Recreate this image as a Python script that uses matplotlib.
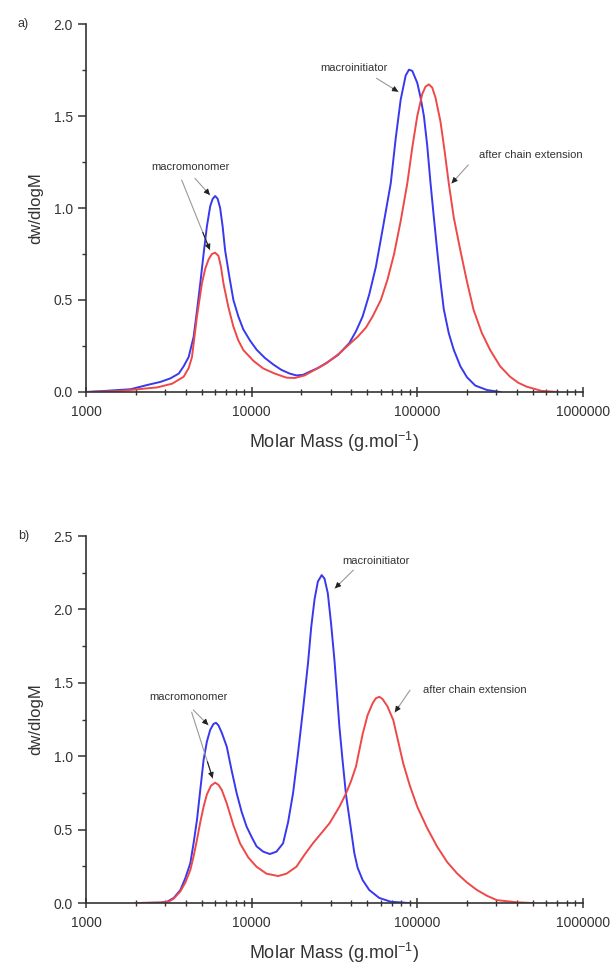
import numpy as np
import matplotlib
matplotlib.use('Agg')
import matplotlib.pyplot as plt
from matplotlib.ticker import LogLocator, AutoMinorLocator, NullFormatter, FixedLocator

plt.rcParams['font.family'] = ['Liberation Sans', 'DejaVu Sans']
plt.rcParams['mathtext.fontset'] = 'custom'
plt.rcParams['mathtext.rm'] = 'Liberation Sans'

# values, x given as log10(M)
# panel a)
a_blue_logm = [3.00, 3.10, 3.27, 3.37, 3.45, 3.51, 3.56, 3.59, 3.62, 3.65, 3.67, 3.69, 3.71,
               3.73, 3.75, 3.765, 3.78, 3.795, 3.81, 3.825, 3.84, 3.865, 3.89, 3.92, 3.95,
               3.99, 4.03, 4.08, 4.13, 4.18, 4.23, 4.27, 4.31, 4.35, 4.40, 4.45, 4.52, 4.59,
               4.63, 4.67, 4.71, 4.75, 4.79, 4.84, 4.87, 4.90, 4.93, 4.95, 4.97, 5.00, 5.02,
               5.04, 5.06, 5.08, 5.10, 5.12, 5.14, 5.16, 5.19, 5.22, 5.26, 5.30, 5.35, 5.42,
               5.50]
a_blue_w = [0.00, 0.005, 0.015, 0.038, 0.055, 0.074, 0.10, 0.14, 0.19, 0.30, 0.44, 0.59, 0.75,
            0.90, 1.01, 1.05, 1.065, 1.05, 1.00, 0.90, 0.77, 0.63, 0.50, 0.41, 0.34,
            0.28, 0.23, 0.185, 0.15, 0.12, 0.10, 0.09, 0.093, 0.11, 0.13, 0.157, 0.20, 0.266,
            0.33, 0.41, 0.53, 0.68, 0.88, 1.135, 1.38, 1.59, 1.72, 1.752, 1.745, 1.68, 1.60,
            1.50, 1.34, 1.135, 0.95, 0.77, 0.60, 0.45, 0.32, 0.23, 0.14, 0.08, 0.035, 0.011,
            0.0]
a_red_logm = [3.00, 3.20, 3.43, 3.52, 3.59, 3.62, 3.64, 3.655, 3.67, 3.685, 3.70, 3.72, 3.74,
              3.76, 3.78, 3.80, 3.815, 3.83, 3.86, 3.89, 3.92, 3.95, 4.01, 4.07, 4.14, 4.21,
              4.26, 4.32, 4.40, 4.45, 4.53, 4.59, 4.64, 4.69, 4.73, 4.78, 4.82, 4.86, 4.90,
              4.94, 4.97, 5.00, 5.03, 5.05, 5.07, 5.09, 5.11, 5.14, 5.165, 5.19, 5.22, 5.26,
              5.30, 5.34, 5.39, 5.44, 5.50, 5.56, 5.61, 5.66, 5.75, 5.85]
a_red_w = [0.0, 0.005, 0.025, 0.045, 0.083, 0.13, 0.19, 0.30, 0.41, 0.50, 0.59, 0.67, 0.72,
           0.75, 0.757, 0.74, 0.68, 0.59, 0.46, 0.355, 0.28, 0.228, 0.17, 0.128, 0.10, 0.078,
           0.076, 0.09, 0.13, 0.155, 0.21, 0.26, 0.30, 0.35, 0.41, 0.50, 0.61, 0.75, 0.93,
           1.135, 1.33, 1.50, 1.62, 1.66, 1.672, 1.655, 1.60, 1.47, 1.31, 1.135, 0.95, 0.77,
           0.60, 0.446, 0.32, 0.228, 0.14, 0.083, 0.05, 0.029, 0.006, 0.0]

# panel b)
b_blue_logm = [3.30, 3.45, 3.49, 3.53, 3.57, 3.60, 3.63, 3.65, 3.67, 3.69, 3.71, 3.73, 3.75,
               3.77, 3.785, 3.80, 3.82, 3.85, 3.88, 3.91, 3.94, 3.97, 4.00, 4.03, 4.07, 4.11,
               4.15, 4.19, 4.22, 4.25, 4.28, 4.31, 4.34, 4.36, 4.38, 4.40, 4.423, 4.44, 4.46,
               4.48, 4.50, 4.515, 4.53, 4.55, 4.57, 4.60, 4.62, 4.64, 4.67, 4.71, 4.77, 4.84,
               4.95]
b_blue_w = [0.0, 0.003, 0.009, 0.035, 0.089, 0.17, 0.272, 0.41, 0.565, 0.77, 0.974, 1.10, 1.18,
            1.22, 1.228, 1.21, 1.16, 1.065, 0.90, 0.747, 0.62, 0.52, 0.45, 0.386, 0.35, 0.334,
            0.35, 0.407, 0.55, 0.747, 1.02, 1.315, 1.63, 1.882, 2.07, 2.19, 2.234, 2.21, 2.11,
            1.90, 1.655, 1.43, 1.20, 0.96, 0.736, 0.50, 0.34, 0.24, 0.157, 0.089, 0.035, 0.009,
            0.0]
b_red_logm = [3.30, 3.45, 3.50, 3.53, 3.57, 3.60, 3.63, 3.65, 3.67, 3.69, 3.71, 3.73, 3.755,
              3.78, 3.80, 3.82, 3.85, 3.89, 3.93, 3.98, 4.03, 4.09, 4.16, 4.21, 4.27, 4.32,
              4.37, 4.42, 4.47, 4.53, 4.57, 4.60, 4.63, 4.67, 4.70, 4.73, 4.75, 4.771, 4.79,
              4.82, 4.855, 4.885, 4.915, 4.955, 5.00, 5.06, 5.12, 5.18, 5.24, 5.30, 5.36, 5.42,
              5.48, 5.60, 5.70]
b_red_w = [0.0, 0.003, 0.01, 0.03, 0.08, 0.14, 0.225, 0.32, 0.43, 0.55, 0.656, 0.74, 0.80,
           0.82, 0.805, 0.77, 0.679, 0.53, 0.407, 0.31, 0.247, 0.20, 0.184, 0.20, 0.247, 0.33,
           0.407, 0.475, 0.543, 0.656, 0.747, 0.83, 0.93, 1.15, 1.28, 1.36, 1.395, 1.405, 1.39,
           1.34, 1.247, 1.10, 0.952, 0.80, 0.656, 0.51, 0.384, 0.28, 0.202, 0.14, 0.089, 0.05,
           0.02, 0.005, 0.0]

blue = '#3838ee'
red = '#ee4848'

fig = plt.figure(figsize=(6.14, 9.65), dpi=100)
ax1 = fig.add_axes([0.140, 0.5938, 0.8094, 0.3813])
ax2 = fig.add_axes([0.140, 0.0642, 0.8094, 0.3803])


def style(ax, ymax):
    ax.set_xscale('log')
    ax.set_xlim(1000, 1000000)
    ax.set_ylim(0, ymax)
    for s in ['top', 'right']:
        ax.spines[s].set_visible(False)
    for s in ['left', 'bottom']:
        ax.spines[s].set_linewidth(1.2)
        ax.spines[s].set_color('#333333')
    ax.xaxis.set_major_locator(FixedLocator([1e3, 1e4, 1e5, 1e6]))
    ax.xaxis.set_minor_locator(LogLocator(base=10, subs=np.arange(2, 10)))
    ax.xaxis.set_minor_formatter(NullFormatter())
    ax.set_xticklabels(['1000', '10000', '100000', '1000000'])
    ax.yaxis.set_minor_locator(AutoMinorLocator(2))
    ax.tick_params(axis='x', which='major', direction='inout', length=7, width=1.1,
                   labelsize=10, colors='#333333', pad=6)
    ax.tick_params(axis='x', which='minor', direction='inout', length=5, width=1.0, colors='#333333')
    ax.tick_params(axis='y', which='major', direction='out', length=6, width=1.1,
                   labelsize=10, colors='#333333')
    ax.tick_params(axis='y', which='minor', direction='out', length=3, width=1.0, colors='#333333')
    ax.set_xlabel('Molar Mass (g.mol$^{\\mathregular{-1}}$)', fontsize=13, color='#333333', labelpad=8)
    ax.set_ylabel('dw/dlogM', fontsize=12, color='#333333', labelpad=7)


def arrow(ax, start, tip):
    # grey shaft, small black head at the tip
    ax.annotate('', xy=(10 ** tip[0], tip[1]), xytext=(10 ** start[0], start[1]),
                arrowprops=dict(arrowstyle='-', color='#999999', lw=0.8, shrinkA=0, shrinkB=0))
    f = 0.75
    mid = (start[0] + f * (tip[0] - start[0]), start[1] + f * (tip[1] - start[1]))
    ax.annotate('', xy=(10 ** tip[0], tip[1]), xytext=(10 ** mid[0], mid[1]),
                arrowprops=dict(arrowstyle='-|>', color='#222222', lw=0.8,
                                mutation_scale=8, shrinkA=0, shrinkB=0))


# panel a
ax1.plot(10 ** np.array(a_blue_logm), a_blue_w, color=blue, lw=1.4)
ax1.plot(10 ** np.array(a_red_logm), a_red_w, color=red, lw=1.4)
style(ax1, 2.0)
ax1.set_yticks([0.0, 0.5, 1.0, 1.5, 2.0])
ax1.set_yticklabels(['0.0', '0.5', '1.0', '1.5', '2.0'])
ax1.text(10 ** 3.628, 1.225, 'macromonomer', fontsize=8, ha='center', va='center', color='#333333')
arrow(ax1, (3.658, 1.161), (3.748, 1.071))
arrow(ax1, (3.578, 1.152), (3.748, 0.772))
ax1.text(10 ** 4.618, 1.76, 'macroinitiator', fontsize=8, ha='center', va='center', color='#333333')
arrow(ax1, (4.754, 1.705), (4.885, 1.632))
ax1.text(10 ** 5.687, 1.288, 'after chain extension', fontsize=8, ha='center', va='center', color='#333333')
arrow(ax1, (5.308, 1.234), (5.207, 1.134))
fig.text(18 / 614, 1 - 24 / 965, 'a)', fontsize=9, va='center', color='#333333')

# panel b
ax2.plot(10 ** np.array(b_blue_logm), b_blue_w, color=blue, lw=1.4)
ax2.plot(10 ** np.array(b_red_logm), b_red_w, color=red, lw=1.4)
style(ax2, 2.5)
ax2.set_yticks([0.0, 0.5, 1.0, 1.5, 2.0, 2.5])
ax2.set_yticklabels(['0.0', '0.5', '1.0', '1.5', '2.0', '2.5'])
ax2.text(10 ** 3.618, 1.405, 'macromonomer', fontsize=8, ha='center', va='center', color='#333333')
arrow(ax2, (3.648, 1.315), (3.738, 1.213))
arrow(ax2, (3.638, 1.30), (3.765, 0.85))
ax2.text(10 ** 4.749, 2.33, 'macroinitiator', fontsize=8, ha='center', va='center', color='#333333')
arrow(ax2, (4.614, 2.268), (4.503, 2.144))
ax2.text(10 ** 5.348, 1.45, 'after chain extension', fontsize=8, ha='center', va='center', color='#333333')
arrow(ax2, (4.956, 1.45), (4.865, 1.30))
fig.text(18 / 614, 1 - 536 / 965, 'b)', fontsize=9, va='center', color='#333333')

fig.savefig('out.png', dpi=100)
